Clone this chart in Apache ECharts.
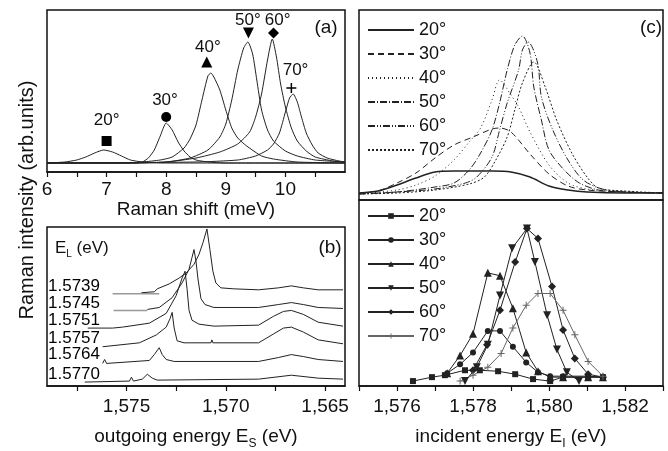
<!DOCTYPE html>
<html>
<head>
<meta charset="utf-8">
<script src="https://cdn.jsdelivr.net/npm/echarts@6/dist/echarts.min.js"></script>
<style>
  html, body { margin: 0; padding: 0; background: #fff; }
  #main { width: 668px; height: 451px; }
</style>
</head>
<body>
<div id="main"></div>
<script>
// ---- (a) Raman spectra vs Raman shift (meV), intensity in arb. units
const angles = ['20°', '30°', '40°', '50°', '60°', '70°'];
const ramanA20 = [[6,9],[6.3,10],[6.5,12],[6.65,15],[6.8,19],[6.95,22],[7.1,20],[7.25,16],[7.4,12],[7.6,10],[7.9,9],[9,9],[11,9]];
const ramanA30 = [[6,9],[7.5,9],[7.6,10],[7.7,14],[7.8,22],[7.9,36],[8.0,49],[8.1,42],[8.2,30],[8.3,21],[8.4,15],[8.5,12],[8.7,10],[9,9],[11,9]];
const ramanA40 = [[6,9],[7.3,9],[7.6,10],[7.9,12],[8.1,15],[8.3,24],[8.4,33],[8.5,47],[8.6,72],[8.7,96],[8.75,99],[8.8,95],[8.9,82],[9.0,62],[9.1,44],[9.2,34],[9.35,26],[9.6,16],[9.8,13],[10.2,10],[11,9]];
const ramanA50 = [[6,9],[7.5,9],[8.0,10],[8.4,14],[8.7,22],[8.9,35],[9.0,48],[9.1,72],[9.2,102],[9.3,124],[9.37,130],[9.45,118],[9.52,92],[9.6,62],[9.7,42],[9.8,31],[10.0,21],[10.2,16],[10.5,12],[11,10]];
const ramanA60 = [[6,9],[7.5,9],[8.0,10],[8.5,14],[8.9,20],[9.2,28],[9.4,40],[9.5,55],[9.6,78],[9.7,112],[9.78,133],[9.85,115],[9.92,88],[10.0,65],[10.1,44],[10.2,31],[10.35,21],[10.5,15],[10.8,11],[11,10]];
const ramanA70 = [[6,9],[8.5,10],[9.2,12],[9.5,16],[9.7,22],[9.8,28],[9.9,39],[10.0,60],[10.07,74],[10.13,78],[10.2,70],[10.27,55],[10.35,39],[10.45,27],[10.55,19],[10.7,14],[10.9,11],[11,10]];
const markerPtsA = [[7.0,31],[8.0,55],[8.68,110],[9.38,139],[9.8,139],[10.1,84]];
const labelPtsA = [[7.0,52],[7.98,72],[8.7,125],[9.37,152],[9.87,152],[10.17,102]];

// ---- (b) spectra vs outgoing energy (eV), stacked by E_L
const laserLabels = ['1.5739', '1.5745', '1.5751', '1.5757', '1.5764', '1.5770'];
const laserLabelY = [102, 84, 67, 49, 32, 12];
const specB1 = [[1.57425,95],[1.5736,96],[1.57345,99],[1.57285,104],[1.57235,110],[1.572,115],[1.5716,124],[1.57135,134],[1.57115,146],[1.57095,160],[1.5708,139],[1.57065,117],[1.5705,105],[1.57025,100],[1.5696,99],[1.56835,98],[1.56735,100],[1.5667,102],[1.5661,100],[1.56535,98],[1.5641,98]];
const specB2 = [[1.57395,78],[1.57335,80],[1.5727,90],[1.5722,105],[1.57185,119],[1.5717,131],[1.5716,139],[1.5715,127],[1.5714,109],[1.57125,89],[1.57105,83],[1.5706,80],[1.56835,80],[1.56735,83],[1.5667,85],[1.5661,83],[1.56535,80],[1.5641,79]];
const specB3 = [[1.57695,59],[1.5757,59],[1.5752,60],[1.57385,64],[1.5730,74],[1.5725,92],[1.5722,110],[1.57205,117],[1.57195,99],[1.57185,77],[1.5717,67],[1.57135,63],[1.5706,61],[1.56835,62],[1.5676,71],[1.5671,76],[1.5667,77],[1.5661,73],[1.56535,65],[1.5641,61]];
const specB4 = [[1.5762,40],[1.57435,44],[1.5735,52],[1.573,60],[1.5728,69],[1.5727,75],[1.5726,59],[1.57245,46],[1.5721,44],[1.57075,44],[1.5707,47],[1.57065,44],[1.56835,44],[1.5676,53],[1.5671,59],[1.5667,60],[1.5661,55],[1.56535,47],[1.5641,43]];
const specB5 = [[1.5762,23],[1.5761,27],[1.576,23],[1.57385,26],[1.5736,32],[1.57335,39],[1.5732,32],[1.573,27],[1.5726,25],[1.56835,25],[1.56735,29],[1.5667,32],[1.5661,30],[1.56535,27],[1.5641,25]];
const specB6 = [[1.5771,4],[1.57485,5],[1.57475,9],[1.57465,5],[1.5742,7],[1.57395,12],[1.5737,8],[1.57345,6],[1.56835,7],[1.5667,11],[1.56535,8],[1.5641,7]];
const greyB1 = [[1.5757,94],[1.57335,94]];
const greyB2 = [[1.57565,77],[1.57395,77]];

// ---- (c) upper: calculated resonance profiles
const fitC20 = [[1.575,7],[1.5755,9],[1.576,15],[1.5765,22],[1.577,28],[1.5775,29],[1.578,29],[1.5785,29],[1.579,28],[1.5795,23],[1.58,14],[1.5805,10],[1.581,8],[1.582,7],[1.583,7]];
const fitC30 = [[1.575,7],[1.5755,9],[1.576,17],[1.5765,27],[1.577,42],[1.5775,55],[1.578,63],[1.5785,71],[1.5787,72],[1.579,68],[1.5795,46],[1.58,26],[1.5805,14],[1.581,10],[1.582,8],[1.583,7]];
const fitC40 = [[1.575,6],[1.576,10],[1.5765,15],[1.577,24],[1.5775,40],[1.5779,58],[1.5782,72],[1.5785,100],[1.5787,120],[1.579,105],[1.5792,93],[1.5795,68],[1.58,35],[1.5805,17],[1.581,11],[1.582,8],[1.583,7]];
const fitC50 = [[1.575,6],[1.576,8],[1.577,13],[1.5775,17],[1.5779,30],[1.5782,47],[1.5785,70],[1.5787,97],[1.5789,130],[1.5791,155],[1.5793,164],[1.5795,147],[1.5796,113],[1.5798,80],[1.58,50],[1.5804,30],[1.5808,17],[1.5813,10],[1.582,8],[1.583,7]];
const fitC60 = [[1.575,6],[1.576,8],[1.577,11],[1.5778,17],[1.5781,23],[1.5785,43],[1.5787,70],[1.5789,97],[1.5792,130],[1.5793,150],[1.57945,158],[1.5797,137],[1.5798,103],[1.5801,70],[1.5805,40],[1.5809,20],[1.5814,11],[1.582,8],[1.583,7]];
const fitC70 = [[1.575,6],[1.576,7],[1.577,10],[1.5779,16],[1.5783,23],[1.5786,40],[1.5789,63],[1.5791,90],[1.5793,117],[1.5796,138],[1.5799,113],[1.5802,80],[1.5806,47],[1.581,23],[1.5813,12],[1.582,9],[1.583,7]];

// ---- (c) lower: measured resonance profiles
const expC20 = [[1.57642,5],[1.57692,9],[1.57726,11],[1.57779,16],[1.57818,16],[1.57866,15],[1.57911,12],[1.57958,7],[1.58003,5],[1.58037,9],[1.58103,9],[1.58142,9]];
const expC30 = [[1.57732,13],[1.57766,22],[1.578,34],[1.57839,56],[1.57871,56],[1.57905,40],[1.5794,24],[1.57971,14],[1.58003,10],[1.58037,10],[1.58103,10],[1.58142,9]];
const expC40 = [[1.57732,13],[1.57766,31],[1.578,53],[1.57839,115],[1.57871,112],[1.57905,79],[1.5794,34],[1.57971,15],[1.58003,9],[1.58037,9],[1.58103,9],[1.58142,9]];
const expC50 = [[1.57779,5],[1.5781,19],[1.57839,42],[1.57871,92],[1.57903,140],[1.57942,160],[1.57963,126],[1.57995,72],[1.58021,37],[1.58047,14],[1.58079,5]];
const expC60 = [[1.578,16],[1.57837,42],[1.57871,77],[1.57911,126],[1.57942,160],[1.57971,150],[1.58008,101],[1.58037,57],[1.58068,28],[1.58103,12],[1.58142,9]];
const expC70 = [[1.57766,5],[1.578,11],[1.57839,19],[1.57874,33],[1.57905,59],[1.5794,82],[1.57971,94],[1.58003,94],[1.58037,77],[1.58068,52],[1.58103,25],[1.58142,10]];

const ticksB = [1.5775, 1.575, 1.5725, 1.57, 1.5675, 1.565];
const labelsB = [1.575, 1.57, 1.565];
const ticksC = [1.575, 1.576, 1.577, 1.578, 1.579, 1.58, 1.581, 1.582, 1.583];
const labelsC = [1.576, 1.578, 1.58, 1.582];

const FONT = 'Liberation Sans';
const INK = '#111';
const commaFmt = v => v.toFixed(3).replace('.', ',');

const chart = echarts.init(document.getElementById('main'), null, { renderer: 'canvas' });

function line(data, grid, extra) {
  return Object.assign({
    type: 'line', data: data, xAxisIndex: grid, yAxisIndex: grid,
    symbol: 'none', silent: true,
    lineStyle: { color: '#222', width: 1 }, itemStyle: { color: '#222' }
  }, extra || {});
}

const shapesA = ['rect', 'circle', 'triangle', 'triangle', 'diamond', 'path://M4,0h1.4v4h4v1.4h-4v4H4v-4H0V4h4z'];
const rotA = [0, 0, 0, 180, 0, 0];
const sizeA = [10, 10, 11, 11, 11, 10];

const fitDash = ['solid', [6, 4], [1, 3], [7, 2, 1, 2], [7, 2, 1, 2, 1, 2], [2, 2]];
const fitData = [fitC20, fitC30, fitC40, fitC50, fitC60, fitC70];
const expData = [expC20, expC30, expC40, expC50, expC60, expC70];
const expSym = ['rect', 'circle', 'triangle', 'triangle', 'diamond', 'path://M3,0h1v3h3v1H4v3H3V4H0V3h3z'];
const expSize = [6, 6, 8, 8, 8, 7];
const expColor = ['#222', '#222', '#222', '#222', '#222', '#666'];

const series = [];
[ramanA20, ramanA30, ramanA40, ramanA50, ramanA60, ramanA70].forEach(d => series.push(line(d, 0, { smooth: 0.2 })));
series.push({
  type: 'scatter', xAxisIndex: 0, yAxisIndex: 0, silent: true,
  data: markerPtsA.map((p, i) => ({ value: p, symbol: shapesA[i], symbolRotate: rotA[i], symbolSize: sizeA[i] })),
  itemStyle: { color: '#000', opacity: 1 }
});
series.push({
  type: 'scatter', xAxisIndex: 0, yAxisIndex: 0, silent: true, symbolSize: 0,
  data: labelPtsA.map((p, i) => ({ value: p, name: angles[i] })),
  itemStyle: { opacity: 1 },
  label: { show: true, position: 'inside', formatter: '{b}', fontSize: 17, color: INK, opacity: 1, fontFamily: FONT }
});

[specB1, specB2, specB3, specB4, specB5, specB6].forEach(d => series.push(line(d, 1)));
series.push(line(greyB1, 1, { lineStyle: { color: '#999', width: 1.5 } }));
series.push(line(greyB2, 1, { lineStyle: { color: '#999', width: 1.5 } }));
series.push({
  type: 'scatter', xAxisIndex: 1, yAxisIndex: 1, silent: true, symbolSize: 0, z: 5,
  data: laserLabels.map((t, i) => ({ value: [1.579, laserLabelY[i]], name: t })),
  itemStyle: { opacity: 1 },
  label: { show: true, position: 'right', distance: 1, formatter: '{b}', fontSize: 17, color: '#000', opacity: 1, fontFamily: FONT }
});

fitData.forEach((d, i) => series.push(line(d, 2, {
  name: 'fit ' + angles[i], smooth: 0.3,
  lineStyle: { color: '#222', width: i === 0 ? 1.5 : 1, type: fitDash[i] }
})));
expData.forEach((d, i) => series.push(line(d, 3, {
  name: 'exp ' + angles[i],
  symbol: expSym[i], symbolSize: expSize[i], symbolRotate: i === 3 ? 180 : 0, showSymbol: true,
  lineStyle: { color: expColor[i], width: 1 }, itemStyle: { color: expColor[i] }
})));

const gridStyle = { show: true, borderColor: INK, borderWidth: 1.5, backgroundColor: 'transparent' };
const nameStyle = () => ({
  fontSize: 19, color: INK, fontFamily: FONT,
  rich: { s: { fontSize: 12, fontFamily: FONT, color: INK, padding: [14, 0, 0, 0] } }
});

const option = {
  animation: false,
  backgroundColor: '#fff',
  textStyle: { fontFamily: FONT, color: INK },
  grid: [
    Object.assign({ left: 47, top: 10, width: 298, height: 162 }, gridStyle),
    Object.assign({ left: 47, top: 227, width: 298, height: 162 }, gridStyle),
    Object.assign({ left: 359, top: 10, width: 304, height: 190 }, gridStyle),
    Object.assign({ left: 359, top: 200, width: 304, height: 189 }, gridStyle)
  ],
  xAxis: [
    {
      gridIndex: 0, type: 'value', min: 6, max: 11, interval: 0.5,
      axisLine: { show: true, lineStyle: { color: INK, width: 1.5 } },
      axisTick: { show: true, length: 5, lineStyle: { color: INK, width: 1.2 } },
      splitLine: { show: false },
      axisLabel: { fontSize: 19, color: INK, margin: 8, showMaxLabel: false,
        formatter: v => (Math.abs(v - Math.round(v)) < 1e-6 && v < 10.5) ? String(Math.round(v)) : '' },
      name: 'Raman shift (meV)', nameLocation: 'middle', nameGap: 23,
      nameTextStyle: { fontSize: 19, color: INK, fontFamily: FONT }
    },
    {
      gridIndex: 1, type: 'value', min: 1.564, max: 1.579, inverse: true,
      axisLine: { show: true, lineStyle: { color: INK, width: 1.5 } },
      axisTick: { show: true, length: 5, customValues: ticksB, lineStyle: { color: INK, width: 1.2 } },
      splitLine: { show: false },
      axisLabel: { fontSize: 19, color: INK, margin: 11, customValues: labelsB, formatter: commaFmt },
      name: 'outgoing energy E{s|S} (eV)', nameLocation: 'middle', nameGap: 38,
      nameTextStyle: nameStyle()
    },
    { gridIndex: 2, type: 'value', min: 1.575, max: 1.583, show: false },
    {
      gridIndex: 3, type: 'value', min: 1.575, max: 1.583,
      axisLine: { show: true, lineStyle: { color: INK, width: 1.5 } },
      axisTick: { show: true, length: 5, customValues: ticksC, lineStyle: { color: INK, width: 1.2 } },
      splitLine: { show: false },
      axisLabel: { fontSize: 19, color: INK, margin: 11, customValues: labelsC, formatter: commaFmt },
      name: 'incident energy E{s|I} (eV)', nameLocation: 'middle', nameGap: 38,
      nameTextStyle: nameStyle()
    }
  ],
  yAxis: [
    { gridIndex: 0, type: 'value', min: 0, max: 162, show: false },
    { gridIndex: 1, type: 'value', min: 0, max: 162, show: false },
    { gridIndex: 2, type: 'value', min: 0, max: 190, show: false },
    { gridIndex: 3, type: 'value', min: 0, max: 189, show: false }
  ],
  legend: [
    {
      orient: 'vertical', left: 362, top: 16, itemWidth: 46, itemHeight: 14, itemGap: 6,
      data: angles.map(a => 'fit ' + a), selectedMode: false,
      itemStyle: { opacity: 0 },
      formatter: n => n.replace('fit ', ''),
      textStyle: { fontSize: 18, color: INK, fontFamily: FONT }
    },
    {
      orient: 'vertical', left: 362, top: 202, itemWidth: 46, itemHeight: 7, itemGap: 6,
      data: angles.map(a => 'exp ' + a), selectedMode: false,
      formatter: n => n.replace('exp ', ''),
      textStyle: { fontSize: 18, color: INK, fontFamily: FONT }
    }
  ],
  graphic: [
    { type: 'text', x: 27, y: 200, rotation: Math.PI / 2,
      style: { text: 'Raman intensity (arb.units)', fontSize: 20, fontFamily: FONT, fill: INK, align: 'center', verticalAlign: 'middle' } },
    { type: 'text', x: 326, y: 28, style: { text: '(a)', fontSize: 19, fontFamily: FONT, fill: INK, align: 'center', verticalAlign: 'middle' } },
    { type: 'text', x: 330, y: 248, style: { text: '(b)', fontSize: 19, fontFamily: FONT, fill: INK, align: 'center', verticalAlign: 'middle' } },
    { type: 'text', x: 651, y: 28, style: { text: '(c)', fontSize: 19, fontFamily: FONT, fill: INK, align: 'center', verticalAlign: 'middle' } },
    { type: 'text', x: 55, y: 248,
      style: { text: 'E{s|L} (eV)', fontSize: 17, fontFamily: FONT, fill: INK, align: 'left', verticalAlign: 'middle',
        rich: { s: { fontSize: 10, fontFamily: FONT, fill: INK, padding: [12, 0, 0, 0] } } } }
  ],
  series: series
};

chart.setOption(option);
</script>
</body>
</html>
